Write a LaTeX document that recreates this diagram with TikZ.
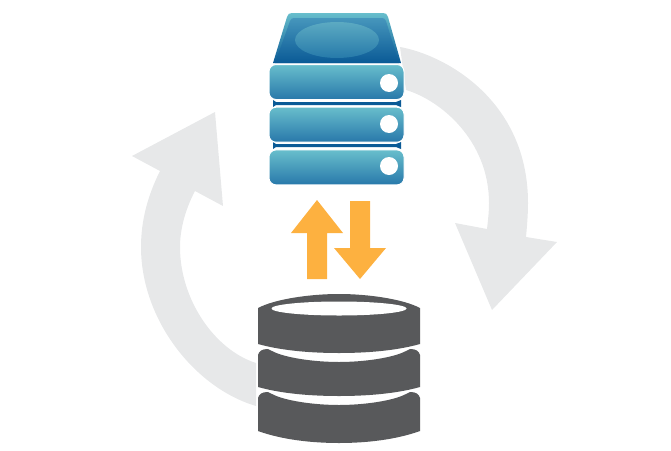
\documentclass[tikz,border=0pt]{standalone}
\usepackage{tikz}
\usetikzlibrary{positioning, arrows.meta, calc}
\definecolor{ringgrey}{RGB}{231,232,233}
\definecolor{dbgrey}{RGB}{88,89,91}
\definecolor{flowamber}{RGB}{253,177,64}
\definecolor{tealtop}{RGB}{104,190,204}
\definecolor{tealbottom}{RGB}{40,120,170}
\definecolor{navy}{RGB}{10,90,150}
\definecolor{paneltop}{RGB}{70,150,188}
\definecolor{glassbottom}{RGB}{38,122,170}
\definecolor{glasstop}{RGB}{92,170,194}
\begin{document}
\begin{tikzpicture}
    [
        x=1pt, y=-1pt,
        ring_arrow/.style={fill=ringgrey, draw=none},
        flow_arrow/.style={fill=flowamber, draw=none},
        db_disk/.style={fill=dbgrey, draw=none},
        db_gap/.style={fill=white, draw=none},
        rack_unit/.style={rounded corners=7pt, rectangle, top color=tealtop, bottom color=tealbottom, draw=white, line width=1pt, minimum width=135pt, minimum height=35pt, inner sep=0pt},
        rack_led/.style={circle, fill=white, draw=none, minimum size=18pt, inner sep=0pt},
        rack_shim/.style={fill=navy, draw=none},
    ]
        \useasboundingbox (0,0) rectangle (671,450);
        % grey cycle
        \fill[ring_arrow] (400,47) .. controls (445,55) and (528,100) .. (528,203) .. controls (528,215) and (527,226) .. (526,237) -- (557,242) -- (492,310) -- (455,223) -- (487,229) .. controls (488,220) and (489,212) .. (489,203) .. controls (489,140) and (440,100) .. (406,90) -- cycle;
        \fill[ring_arrow] (256,406) .. controls (195,388) and (141,320) .. (141,247) .. controls (141,220) and (148,195) .. (160,171) -- (132,156) -- (215,112) -- (223,206) -- (195,191) .. controls (186,208) and (180,228) .. (180,247) .. controls (180,300) and (215,350) .. (256,363) -- cycle;
        % top box
        \shade[top color=tealtop, bottom color=navy] (273,63) -- (287,17) .. controls (288,14) and (289,13) .. (292,13) -- (383,13) .. controls (386,13) and (387,14) .. (388,17) -- (401,63) -- cycle;
        \shade[top color=paneltop, bottom color=navy] (275,63) -- (290,21) .. controls (291,19) and (292,18) .. (294,18) -- (382,18) .. controls (384,18) and (385,19) .. (386,21) -- (399,63) -- cycle;
        \shade[top color=glasstop, bottom color=glassbottom] (337,40) ellipse (42 and 18);
        \fill[rack_shim] (273,100) -- (276,102) -- (396,102) -- (401,100) -- (401,107) -- (396,105) -- (276,105) -- (273,107) -- cycle;
        \fill[rack_shim] (273,142) -- (276,144) -- (396,144) -- (401,142) -- (401,149) -- (396,147) -- (276,147) -- (273,149) -- cycle;
        \node[rack_unit] (unit1) at (336.5,82) {};
        \node[rack_unit] (unit2) [below = 6.7pt of unit1] {};
        \node[rack_unit] (unit3) [below = 6.7pt of unit2] {};
        \node[rack_led] (led1) at (389,83) {};
        \node[rack_led] (led2) at (389,124) {};
        \node[rack_led] (led3) at (389,166) {};
        % exchange arrows
        \fill[flow_arrow] (317,200) -- (343,233) -- (327,233) -- (327,279) -- (307,279) -- (307,233) -- (291,233) -- cycle;
        \fill[flow_arrow] (350,201) -- (370,201) -- (370,248) -- (386,248) -- (360,279) -- (334,248) -- (350,248) -- cycle;
        % database
        \fill[db_disk] (258,308) .. controls (275,299) and (310,294) .. (339,294) .. controls (368,294) and (403,299) .. (420,308) -- (420,344) .. controls (395,351) and (365,353) .. (339,353) .. controls (313,353) and (283,351) .. (258,344) -- cycle;
        \fill[db_gap] (339,308.5) ellipse (67.5 and 7);
        \fill[db_disk] (258,355) .. controls (259,351) and (262,349) .. (268,349) -- (272,351) .. controls (285,358) and (315,362) .. (339,362) .. controls (363,362) and (393,358) .. (406,351) -- (410,349) .. controls (416,349) and (419,351) .. (420,355) -- (420,387) .. controls (395,394) and (365,396) .. (339,396) .. controls (313,396) and (283,394) .. (258,387) -- cycle;
        \fill[db_disk] (258,398) .. controls (259,394) and (262,392) .. (268,392) -- (272,394) .. controls (285,401) and (315,405) .. (339,405) .. controls (363,405) and (393,401) .. (406,394) -- (410,392) .. controls (416,392) and (419,394) .. (420,398) -- (420,431) .. controls (395,440) and (365,443) .. (339,443) .. controls (313,443) and (283,440) .. (258,431) -- cycle;
    \end{tikzpicture}
\end{document}
